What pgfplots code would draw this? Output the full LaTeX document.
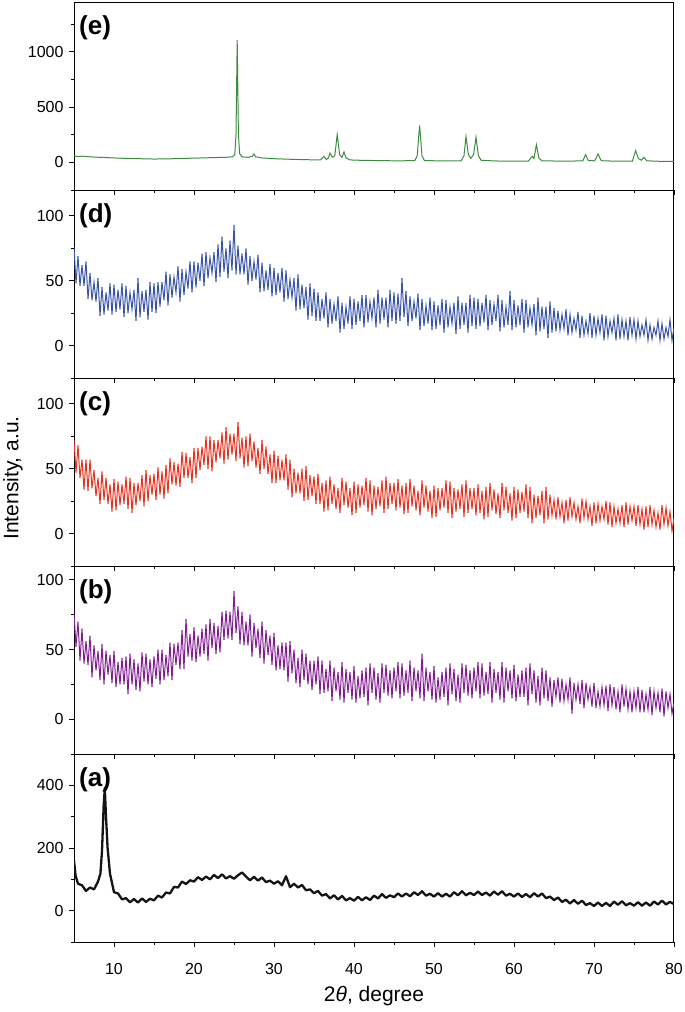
\documentclass[border=0pt]{standalone}
\usepackage{fontspec}
\setmainfont{Liberation Sans}
\usepackage{pgfplots}
\pgfplotsset{compat=1.18}
\definecolor{cE}{RGB}{61,139,64}
\definecolor{cD}{RGB}{58,84,166}
\definecolor{cC}{RGB}{228,52,36}
\definecolor{cB}{RGB}{128,32,144}
\definecolor{cA}{RGB}{20,20,20}
\pgfplotsset{panel/.style={
  scale only axis, width=600pt, height=188pt, xmin=5, xmax=80,
  anchor=south west,
  xtick={10,20,...,80}, minor xtick={15,25,...,75},
  xtick pos=lower, ytick pos=left,
  tick align=outside,
  major tick length=5pt, minor tick length=3pt,
  axis line style={line width=1pt},
  every tick/.append style={black, line width=0.9pt},
  tick label style={font=\fontsize{16}{18}\selectfont},
  xticklabel style={yshift=-13pt},
  yticklabel style={xshift=-2pt},
  /pgf/number format/assume math mode=true,
  /pgf/number format/1000 sep={},
  scaled ticks=false,
}}
\newcommand{\plabel}[1]{\node[anchor=north west, inner sep=0pt, font=\bfseries\fontsize{26}{28}\selectfont, xshift=5pt, yshift=-13pt] at (rel axis cs:0,1) {#1};}
\begin{document}
\begin{tikzpicture}
\useasboundingbox (0,0) rectangle (685pt,-1012pt);
% (e)
\begin{axis}[panel, at={(74pt,-190pt)}, ymin=-250, ymax=1450,
  ytick={0,500,1000}, minor ytick={-250,250,750,1250}, xticklabels={}]
\addplot[cE, line width=1pt] coordinates {(5,60)(5.5,52)(6,56)(7,50)(8,46)(9,43)(10,40)(11,37)(12,35)(13,33)(14,32)(15,30)(16,31)(17,32)(18,34)(19,36)(20,38)(21,40)(22,42)(23,44)(24,46)(24.8,50)(25.1,70)(25.25,250)(25.4,1105)(25.55,260)(25.7,80)(26,50)(26.8,45)(27.3,55)(27.5,76)(27.7,50)(28.5,40)(30,33)(32,28)(34,24)(35.8,22)(36.25,55)(36.55,25)(36.8,40)(37.0,85)(37.3,45)(37.6,60)(37.9,251)(38.2,70)(38.5,45)(38.75,94)(39.0,40)(39.5,22)(41,18)(43,16)(45,14)(47.6,15)(47.9,60)(48.2,333)(48.5,60)(48.8,16)(51,13)(53.4,14)(53.75,60)(54.0,233)(54.3,70)(54.6,35)(54.95,70)(55.25,227)(55.55,60)(55.9,18)(58,12)(61.8,12)(62.3,55)(62.5,35)(62.8,160)(63.1,40)(63.5,14)(66,11)(68.6,13)(68.95,70)(69.3,16)(70.1,14)(70.5,76)(70.9,15)(72.5,11)(74.8,12)(75.2,106)(75.55,35)(75.9,20)(76.25,45)(76.6,14)(78,10)(80,9)};
\plabel{(e)}
\end{axis}
% (d)
\begin{axis}[panel, at={(74pt,-378pt)}, ymin=-25, ymax=120,
  ytick={0,50,100}, minor ytick={-25,25,75}, xticklabels={}]
\addplot[cD, line width=1pt] coordinates {(5,76)(5.25,48)(5.5,69)(5.75,46)(6,62)(6.25,46)(6.5,65)(6.75,36)(7,56)(7.25,35)(7.5,49)(7.75,34)(8,52)(8.25,23)(8.5,45)(8.75,24)(9,41)(9.25,27)(9.5,48)(9.75,24)(10,47)(10.25,26)(10.5,43)(10.75,28)(11,48)(11.25,22)(11.5,46)(11.75,25)(12,41)(12.25,28)(12.5,43)(12.75,19)(13,52)(13.25,22)(13.5,42)(13.75,26)(14,43)(14.25,20)(14.5,49)(14.75,26)(15,48)(15.25,25)(15.5,49)(15.75,30)(16,49)(16.25,35)(16.5,57)(16.75,31)(17,55)(17.25,37)(17.5,53)(17.75,41)(18,61)(18.25,34)(18.5,59)(18.75,39)(19,57)(19.25,44)(19.5,65)(19.75,41)(20,65)(20.25,45)(20.5,64)(20.75,50)(21,71)(21.25,46)(21.5,72)(21.75,52)(22,68)(22.25,56)(22.5,72)(22.75,49)(23,78)(23.25,53)(23.5,84)(23.75,57)(24,75)(24.25,52)(24.5,81)(24.75,58)(25,93)(25.25,55)(25.5,77)(25.75,55)(26,71)(26.25,55)(26.5,75)(26.75,47)(27,69)(27.25,50)(27.5,65)(27.75,51)(28,70)(28.25,41)(28.5,64)(28.75,42)(29,58)(29.25,43)(29.5,63)(29.75,38)(30,60)(30.25,39)(30.5,56)(30.75,41)(31,60)(31.25,34)(31.5,58)(31.75,36)(32,51)(32.25,37)(32.5,52)(32.75,27)(33,55)(33.25,28)(33.5,47)(33.75,29)(34,45)(34.25,20)(34.5,48)(34.75,23)(35,44)(35.25,19)(35.5,41)(35.75,19)(36,36)(36.25,21)(36.5,41)(36.75,14)(37,36)(37.25,17)(37.5,32)(37.75,19)(38,38)(38.25,10)(38.5,33)(38.75,13)(39,30)(39.25,17)(39.5,38)(39.75,13)(40,36)(40.25,16)(40.5,34)(40.75,19)(41,39)(41.25,14)(41.5,39)(41.75,18)(42,34)(42.25,21)(42.5,37)(42.75,14)(43,43)(43.25,17)(43.5,37)(43.75,20)(44,37)(44.25,14)(44.5,43)(44.75,19)(45,41)(45.25,17)(45.5,40)(45.75,19)(46,52)(46.25,22)(46.5,42)(46.75,15)(47,38)(47.25,19)(47.5,34)(47.75,21)(48,40)(48.25,12)(48.5,36)(48.75,15)(49,31)(49.25,17)(49.5,37)(49.75,12)(50,34)(50.25,13)(50.5,31)(50.75,16)(51,36)(51.25,10)(51.5,35)(51.75,14)(52,30)(52.25,17)(52.5,33)(52.75,9)(53,38)(53.25,13)(53.5,33)(53.75,16)(54,33)(54.25,10)(54.5,39)(54.75,15)(55,37)(55.25,13)(55.5,36)(55.75,15)(56,33)(56.25,18)(56.5,39)(56.75,12)(57,35)(57.25,16)(57.5,32)(57.75,19)(58,39)(58.25,11)(58.5,35)(58.75,14)(59,30)(59.25,16)(59.5,42)(59.75,12)(60,35)(60.25,14)(60.5,31)(60.75,16)(61,36)(61.25,10)(61.5,35)(61.75,14)(62,29)(62.25,16)(62.5,32)(62.75,8)(63,37)(63.25,11)(63.5,30)(63.75,13)(64,30)(64.25,6)(64.5,34)(64.75,10)(65,29)(65.25,11)(65.5,27)(65.75,12)(66,24)(66.25,13)(66.5,28)(66.75,8)(67,24)(67.25,10)(67.5,21)(67.75,12)(68,26)(68.25,6)(68.5,23)(68.75,8)(69,19)(69.25,9)(69.5,25)(69.75,6)(70,23)(70.25,8)(70.5,21)(70.75,10)(71,24)(71.25,4)(71.5,23)(71.75,7)(72,19)(72.25,10)(72.5,21)(72.75,4)(73,24)(73.25,5)(73.5,20)(73.75,7)(74,19)(74.25,4)(74.5,22)(74.75,8)(75,20)(75.25,5)(75.5,19)(75.75,7)(76,16)(76.25,8)(76.5,20)(76.75,4)(77,16)(77.25,5)(77.5,14)(77.75,8)(78,19)(78.25,4)(78.5,17)(78.75,5)(79,14)(79.25,7)(79.5,20)(79.75,4)(80,14)};
\plabel{(d)}
\end{axis}
% (c)
\begin{axis}[panel, at={(74pt,-566pt)}, ymin=-25, ymax=120,
  ytick={0,50,100}, minor ytick={-25,25,75}, xticklabels={}]
\addplot[cC, line width=1pt] coordinates {(5,72)(5.25,47)(5.5,68)(5.75,43)(6,57)(6.25,34)(6.5,57)(6.75,33)(7,57)(7.25,35)(7.5,49)(7.75,29)(8,43)(8.25,23)(8.5,48)(8.75,26)(9,43)(9.25,23)(9.5,38)(9.75,17)(10,42)(10.25,18)(10.5,40)(10.75,22)(11,38)(11.25,23)(11.5,44)(11.75,19)(12,43)(12.25,16)(12.5,39)(12.75,22)(13,39)(13.25,25)(13.5,45)(13.75,21)(14,49)(14.25,25)(14.5,45)(14.75,30)(15,46)(15.25,26)(15.5,51)(15.75,30)(16,48)(16.25,27)(16.5,53)(16.75,31)(17,58)(17.25,38)(17.5,55)(17.75,37)(18,54)(18.25,36)(18.5,63)(18.75,43)(19,62)(19.25,43)(19.5,59)(19.75,39)(20,66)(20.25,43)(20.5,66)(20.75,49)(21,67)(21.25,53)(21.5,75)(21.75,50)(22,75)(22.25,48)(22.5,72)(22.75,55)(23,72)(23.25,58)(23.5,78)(23.75,54)(24,82)(24.25,57)(24.5,77)(24.75,61)(25,77)(25.25,56)(25.5,86)(25.75,58)(26,74)(26.25,51)(26.5,75)(26.75,52)(27,77)(27.25,56)(27.5,71)(27.75,51)(28,66)(28.25,46)(28.5,72)(28.75,50)(29,67)(29.25,46)(29.5,61)(29.75,39)(30,64)(30.25,39)(30.5,60)(30.75,41)(31,57)(31.25,41)(31.5,61)(31.75,34)(32,57)(32.25,28)(32.5,50)(32.75,31)(33,47)(33.25,31)(33.5,50)(33.75,25)(34,52)(34.25,26)(34.5,45)(34.75,29)(35,44)(35.25,23)(35.5,46)(35.75,23)(36,39)(36.25,17)(36.5,41)(36.75,18)(37,44)(37.25,23)(37.5,38)(37.75,19)(38,35)(38.25,16)(38.5,43)(38.75,22)(39,40)(39.25,20)(39.5,35)(39.75,14)(40,40)(40.25,16)(40.5,38)(40.75,20)(41,37)(41.25,22)(41.5,43)(41.75,17)(42,41)(42.25,14)(42.5,37)(42.75,19)(43,36)(43.25,21)(43.5,41)(43.75,16)(44,44)(44.25,19)(44.5,39)(44.75,23)(45,39)(45.25,18)(45.5,42)(45.75,20)(46,37)(46.25,15)(46.5,39)(46.75,16)(47,42)(47.25,21)(47.5,37)(47.75,18)(48,33)(48.25,14)(48.5,41)(48.75,20)(49,37)(49.25,17)(49.5,33)(49.75,12)(50,37)(50.25,13)(50.5,35)(50.75,18)(51,35)(51.25,20)(51.5,41)(51.75,16)(52,40)(52.25,12)(52.5,35)(52.75,17)(53,34)(53.25,19)(53.5,38)(53.75,13)(54,41)(54.25,16)(54.5,35)(54.75,19)(55,35)(55.25,14)(55.5,38)(55.75,16)(56,33)(56.25,11)(56.5,36)(56.75,13)(57,39)(57.25,18)(57.5,34)(57.75,15)(58,31)(58.25,12)(58.5,39)(58.75,18)(59,36)(59.25,16)(59.5,31)(59.75,10)(60,36)(60.25,12)(60.5,34)(60.75,16)(61,32)(61.25,17)(61.5,38)(61.75,12)(62,36)(62.25,8)(62.5,30)(62.75,12)(63,29)(63.25,14)(63.5,33)(63.75,8)(64,36)(64.25,11)(64.5,30)(64.75,14)(65,26)(65.25,11)(65.5,28)(65.75,13)(66,24)(66.25,8)(66.5,26)(66.75,10)(67,28)(67.25,13)(67.5,24)(67.75,11)(68,21)(68.25,8)(68.5,27)(68.75,12)(69,25)(69.25,11)(69.5,21)(69.75,6)(70,24)(70.25,8)(70.5,23)(70.75,10)(71,21)(71.25,11)(71.5,25)(71.75,7)(72,24)(72.25,5)(72.5,21)(72.75,8)(73,19)(73.25,8)(73.5,22)(73.75,5)(74,24)(74.25,7)(74.5,21)(74.75,10)(75,21)(75.25,6)(75.5,22)(75.75,7)(76,19)(76.25,3)(76.5,21)(76.75,5)(77,22)(77.25,7)(77.5,18)(77.75,5)(78,16)(78.25,3)(78.5,22)(78.75,7)(79,20)(79.25,6)(79.5,17)(79.75,2)(80,12)};
\plabel{(c)}
\end{axis}
% (b)
\begin{axis}[panel, at={(74pt,-754pt)}, ymin=-25, ymax=110,
  ytick={0,50,100}, minor ytick={-25,25,75}, xticklabels={}]
\addplot[cB, line width=1pt] coordinates {(5,76)(5.25,52)(5.5,70)(5.75,42)(6,65)(6.25,40)(6.5,56)(6.75,39)(7,60)(7.25,30)(7.5,53)(7.75,35)(8,49)(8.25,28)(8.5,54)(8.75,25)(9,49)(9.25,32)(9.5,46)(9.75,26)(10,49)(10.25,23)(10.5,41)(10.75,25)(11,44)(11.25,25)(11.5,45)(11.75,18)(12,47)(12.25,25)(12.5,43)(12.75,21)(13,40)(13.25,20)(13.5,48)(13.75,27)(14,47)(14.25,25)(14.5,43)(14.75,23)(15,45)(15.25,29)(15.5,50)(15.75,25)(16,50)(16.25,28)(16.5,46)(16.75,31)(17,55)(17.25,28)(17.5,54)(17.75,39)(18,55)(18.25,36)(18.5,64)(18.75,36)(19,72)(19.25,45)(19.5,61)(19.75,42)(20,66)(20.25,41)(20.5,60)(20.75,45)(21,65)(21.25,47)(21.5,68)(21.75,42)(22,72)(22.25,51)(22.5,69)(22.75,47)(23,67)(23.25,48)(23.5,77)(23.75,57)(24,78)(24.25,58)(24.5,77)(24.75,57)(25,92)(25.25,62)(25.5,81)(25.75,54)(26,77)(26.25,53)(26.5,70)(26.75,53)(27,75)(27.25,45)(27.5,69)(27.75,51)(28,65)(28.25,44)(28.5,70)(28.75,40)(29,64)(29.25,46)(29.5,60)(29.75,39)(30,62)(30.25,35)(30.5,53)(30.75,36)(31,55)(31.25,35)(31.5,55)(31.75,27)(32,56)(32.25,33)(32.5,50)(32.75,26)(33,44)(33.25,23)(33.5,50)(33.75,28)(34,47)(34.25,25)(34.5,42)(34.75,21)(35,42)(35.25,25)(35.5,45)(35.75,18)(36,42)(36.25,19)(36.5,36)(36.75,20)(37,42)(37.25,13)(37.5,37)(37.75,20)(38,34)(38.25,14)(38.5,41)(38.75,12)(39,36)(39.25,19)(39.5,34)(39.75,14)(40,38)(40.25,12)(40.5,31)(40.75,15)(41,35)(41.25,16)(41.5,37)(41.75,10)(42,40)(42.25,19)(42.5,37)(42.75,14)(43,33)(43.25,12)(43.5,40)(43.75,19)(44,39)(44.25,17)(44.5,35)(44.75,15)(45,37)(45.25,20)(45.5,41)(45.75,15)(46,40)(46.25,17)(46.5,35)(46.75,19)(47,42)(47.25,13)(47.5,37)(47.75,20)(48,35)(48.25,15)(48.5,47)(48.75,13)(49,37)(49.25,20)(49.5,34)(49.75,14)(50,38)(50.25,12)(50.5,30)(50.75,14)(51,34)(51.25,16)(51.5,37)(51.75,10)(52,40)(52.25,18)(52.5,36)(52.75,13)(53,32)(53.25,12)(53.5,40)(53.75,19)(54,39)(54.25,17)(54.5,35)(54.75,15)(55,37)(55.25,20)(55.5,41)(55.75,15)(56,40)(56.25,17)(56.5,34)(56.75,18)(57,41)(57.25,12)(57.5,36)(57.75,19)(58,34)(58.25,14)(58.5,41)(58.75,12)(59,37)(59.25,20)(59.5,35)(59.75,15)(60,39)(60.25,13)(60.5,32)(60.75,16)(61,35)(61.25,16)(61.5,37)(61.75,10)(62,40)(62.25,18)(62.5,35)(62.75,12)(63,31)(63.25,10)(63.5,37)(63.75,15)(64,35)(64.25,13)(64.5,30)(64.75,9)(65,28)(65.25,16)(65.5,30)(65.75,12)(66,29)(66.25,13)(66.5,25)(66.75,14)(67,30)(67.25,4)(67.5,26)(67.75,14)(68,25)(68.25,11)(68.5,28)(68.75,8)(69,26)(69.25,14)(69.5,23)(69.75,9)(70,26)(70.25,8)(70.5,20)(70.75,9)(71,23)(71.25,10)(71.5,24)(71.75,6)(72,25)(72.25,10)(72.5,23)(72.75,7)(73,20)(73.25,5)(73.5,25)(73.75,9)(74,22)(74.25,7)(74.5,20)(74.75,5)(75,20)(75.25,8)(75.5,23)(75.75,5)(76,21)(76.25,5)(76.5,18)(76.75,7)(77,23)(77.25,3)(77.5,20)(77.75,8)(78,19)(78.25,5)(78.5,22)(78.75,2)(79,20)(79.25,8)(79.5,18)(79.75,4)(80,12)};
\plabel{(b)}
\end{axis}
% (a)
\begin{axis}[panel, at={(74pt,-942pt)}, ymin=-100, ymax=500,
  ytick={0,200,400}, minor ytick={-100,100,300,500}]
\addplot[cA, line width=2.3pt, line join=round] coordinates {(5,160)(5.2,112)(5.5,86)(6,81)(6.5,63)(7,74)(7.5,68)(8,93)(8.3,118)(8.5,190)(8.7,330)(8.85,392)(9,300)(9.2,200)(9.5,118)(10,59)(10.5,55)(11,36)(11.5,40)(12,27)(12.5,37)(13,26)(13.5,39)(14,28)(14.5,38)(15,33)(15.5,48)(16,42)(16.5,58)(17,55)(17.5,76)(18,74)(18.5,93)(19,85)(19.5,97)(20,93)(20.5,107)(21,98)(21.5,109)(22,100)(22.5,114)(23,104)(23.5,116)(24,103)(24.5,110)(25,102)(25.5,113)(26,122)(26.5,109)(27,97)(27.5,108)(28,96)(28.5,106)(29,91)(29.5,96)(30,86)(30.5,94)(31,81)(31.5,110)(32,75)(32.5,86)(33,74)(33.5,82)(34,65)(34.5,68)(35,56)(35.5,63)(36,48)(36.5,53)(37,39)(37.5,49)(38,36)(38.5,47)(39,33)(39.5,40)(40,32)(40.5,44)(41,33)(41.5,43)(42,34)(42.5,48)(43,39)(43.5,53)(44,41)(44.5,49)(45,43)(45.5,55)(46,45)(46.5,55)(47,46)(47.5,59)(48,50)(48.5,62)(49,48)(49.5,54)(50,45)(50.5,56)(51,45)(51.5,54)(52,45)(52.5,59)(53,49)(53.5,62)(54,49)(54.5,57)(55,50)(55.5,61)(56,50)(56.5,58)(57,48)(57.5,61)(58,51)(58.5,62)(59,48)(59.5,54)(60,45)(60.5,55)(61,44)(61.5,53)(62,43)(62.5,56)(63,45)(63.5,55)(64,40)(64.5,45)(65,34)(65.5,42)(66,28)(66.5,35)(67,23)(67.5,34)(68,22)(68.5,32)(69,18)(69.5,24)(70,15)(70.5,26)(71,15)(71.5,25)(72,15)(72.5,29)(73,19)(73.5,30)(74,17)(74.5,24)(75,16)(75.5,27)(76,16)(76.5,26)(77,16)(77.5,29)(78,20)(78.5,32)(79,20)(79.5,28)(80,21)};
\plabel{(a)}
\end{axis}
\node[rotate=90, font=\fontsize{21}{24}\selectfont] at (13pt,-478pt) {Intensity, a.u.};
\node[font=\fontsize{21}{24}\selectfont] at (374pt,-996pt) {2\textit{θ}, degree};
\end{tikzpicture}
\end{document}
